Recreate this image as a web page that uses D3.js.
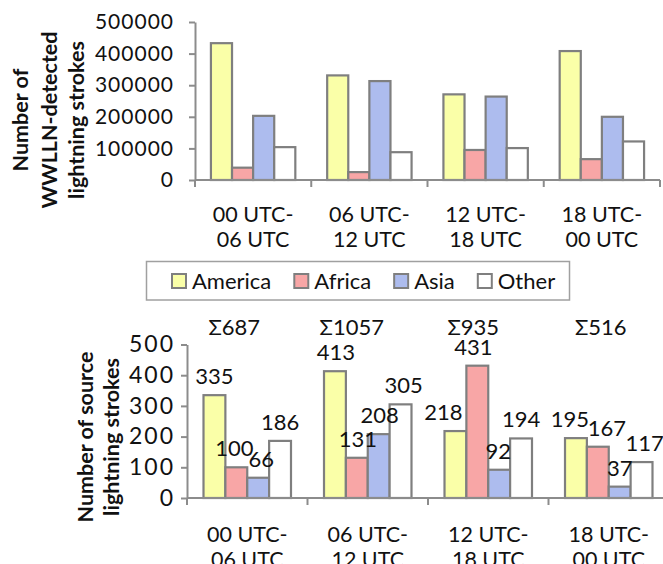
<!DOCTYPE html>
<html>
<head>
<meta charset="utf-8">
<script src="https://cdn.jsdelivr.net/npm/d3@7"></script>
<style>
  html, body { margin: 0; padding: 0; background: #fff; }
  svg { display: block; font-family: Lato, "Open Sans", sans-serif; }
</style>
</head>
<body>
<svg id="chart" width="663" height="564"></svg>
<script>
// Time windows (UTC) shared by both panels
const periods = [["00 UTC-", "06 UTC"], ["06 UTC-", "12 UTC"], ["12 UTC-", "18 UTC"], ["18 UTC-", "00 UTC"]];
const regions = ["America", "Africa", "Asia", "Other"];
const regionColors = ["#FAFFA8", "#F8A6A6", "#ADBCEE", "#FFFFFF"];

// Upper panel: WWLLN-detected strokes per region and period
const wwllnAmerica = [433000, 331000, 271000, 408000];
const wwllnAfrica  = [39000, 25000, 95000, 66000];
const wwllnAsia    = [203000, 313000, 264000, 200000];
const wwllnOther   = [104000, 88000, 101000, 122000];
const wwllnTicks   = [0, 100000, 200000, 300000, 400000, 500000];

// Lower panel: source lightning strokes per region and period
const srcAmerica = [335, 413, 218, 195];
const srcAfrica  = [100, 131, 431, 167];
const srcAsia    = [66, 208, 92, 37];
const srcOther   = [186, 305, 194, 117];
const srcTotals  = [687, 1057, 935, 516];
const srcTicks   = [0, 100, 200, 300, 400, 500];

// Small horizontal nudges that keep crowded value labels apart
const srcLabelNudge = [[0, -2, 3, 0], [1, 1, 1, 3], [-12, -4, -1, 0], [-6, 9, 0, 3]];
const totalNudge = [-13, -16, -15, -8];

const svg = d3.select("#chart");
const axisColor = "#8C8C8C";
const barStroke = "#7F7F7F";
const ink = "#111";

function panel(opts) {
  const { values, ticks, xRange, yRange, tickPad, tickFont, tickSpacing, labelBase } = opts;
  const g = svg.append("g");
  const x0 = d3.scaleBand().domain(d3.range(periods.length)).range(xRange).padding(0);
  const bw = x0.bandwidth();
  const x1 = d3.scaleBand().domain(d3.range(regions.length))
    .range([bw * 0.137, bw * (1 - 0.137)]).padding(0);
  const y = d3.scaleLinear().domain([0, ticks[ticks.length - 1]]).range(yRange);

  // bars
  const groups = g.selectAll("g.grp").data(d3.range(periods.length)).join("g")
    .attr("class", "grp").attr("transform", i => `translate(${x0(i)},0)`);
  groups.selectAll("rect").data(i => regions.map((r, k) => ({ k, i, v: values[k][i] }))).join("rect")
    .attr("x", d => x1(d.k))
    .attr("y", d => y(d.v))
    .attr("width", x1.bandwidth())
    .attr("height", d => y(0) - y(d.v))
    .attr("fill", d => regionColors[d.k])
    .attr("stroke", barStroke)
    .attr("stroke-width", 2.2);

  // y axis
  const yAxis = g.append("g").attr("transform", `translate(${xRange[0]},0)`)
    .call(d3.axisLeft(y).tickValues(ticks).tickFormat(d3.format("d")).tickSize(6).tickSizeOuter(0).tickPadding(tickPad));
  yAxis.select(".domain").attr("stroke", axisColor).attr("stroke-width", 2);
  yAxis.selectAll(".tick line").attr("stroke", axisColor).attr("stroke-width", 2);
  yAxis.selectAll(".tick text").attr("font-size", tickFont).attr("letter-spacing", tickSpacing)
    .attr("fill", ink).attr("font-family", "Lato");

  // x axis: line plus boundary ticks between periods
  const xAxis = g.append("g");
  xAxis.append("line").attr("x1", xRange[0]).attr("x2", xRange[1])
    .attr("y1", y(0)).attr("y2", y(0)).attr("stroke", axisColor).attr("stroke-width", 2);
  xAxis.selectAll("line.b").data(d3.range(periods.length + 1)).join("line").attr("class", "b")
    .attr("x1", i => xRange[0] + i * x0.step()).attr("x2", i => xRange[0] + i * x0.step())
    .attr("y1", y(0)).attr("y2", y(0) + 7).attr("stroke", axisColor).attr("stroke-width", 2);
  const lbl = xAxis.selectAll("text.cat").data(periods).join("text").attr("class", "cat")
    .attr("text-anchor", "middle").attr("font-size", 21.5).attr("fill", ink);
  lbl.each(function (p, i) {
    const t = d3.select(this);
    p.forEach((line, j) => {
      t.append("tspan").attr("x", x0(i) + bw / 2).attr("y", labelBase + j * 25).text(line);
    });
  });

  return { g, x0, x1, y };
}

// Upper panel
panel({
  values: [wwllnAmerica, wwllnAfrica, wwllnAsia, wwllnOther],
  ticks: wwllnTicks,
  xRange: [195, 660],
  yRange: [180, 22],
  tickPad: 15,
  tickFont: 21,
  tickSpacing: 1,
  labelBase: 221.5
});

// Lower panel
const low = panel({
  values: [srcAmerica, srcAfrica, srcAsia, srcOther],
  ticks: srcTicks,
  xRange: [187, 669],
  yRange: [498, 344.5],
  tickPad: 6,
  tickFont: 23,
  tickSpacing: 2,
  labelBase: 541.5
});

// value labels above lower bars, with the period totals above each group
const srcValues = [srcAmerica, srcAfrica, srcAsia, srcOther];
periods.forEach((p, i) => {
  regions.forEach((r, k) => {
    const v = srcValues[k][i];
    svg.append("text")
      .attr("x", low.x0(i) + low.x1(k) + low.x1.bandwidth() / 2 + srcLabelNudge[i][k])
      .attr("y", low.y(v) - 11)
      .attr("text-anchor", "middle").attr("font-size", 22).attr("fill", ink)
      .text(v);
  });
  svg.append("text")
    .attr("x", low.x0(i) + low.x0.bandwidth() / 2 + totalNudge[i])
    .attr("y", 334.5)
    .attr("text-anchor", "middle").attr("font-size", 22).attr("fill", ink)
    .text("\u03A3" + srcTotals[i]);
});

// axis titles
function vtitle(lines, cy, baseXs) {
  lines.forEach((line, j) => {
    svg.append("text")
      .attr("transform", `translate(${baseXs[j]},${cy}) rotate(-90)`)
      .attr("text-anchor", "middle").attr("font-size", 21.5).attr("font-weight", "bold").attr("fill", ink)
      .text(line);
  });
}
vtitle(["Number of", "WWLLN-detected", "lightning strokes"], 120, [28, 57, 84]);
vtitle(["Number of source", "lightning strokes"], 437, [93, 119]);

// legend
const legend = svg.append("g");
legend.append("rect").attr("x", 146.5).attr("y", 261.5).attr("width", 423).attr("height", 38.5)
  .attr("fill", "#fff").attr("stroke", "#A0A0A0").attr("stroke-width", 1.5);
let lx = 172;
regions.forEach((r, k) => {
  legend.append("rect").attr("x", lx).attr("y", 274).attr("width", 14).attr("height", 14)
    .attr("fill", regionColors[k]).attr("stroke", barStroke).attr("stroke-width", 2);
  const t = legend.append("text").attr("x", lx + 20).attr("y", 288.5)
    .attr("font-size", 22).attr("fill", ink).text(r);
  lx += 20 + t.node().getComputedTextLength() + 23;
});
</script>
</body>
</html>
